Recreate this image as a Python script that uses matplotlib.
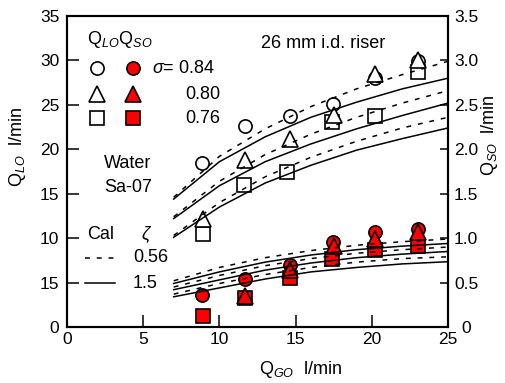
import numpy as np
import matplotlib
matplotlib.use("Agg")
import matplotlib.pyplot as plt

plt.rcParams['font.family'] = ['Liberation Sans', 'DejaVu Sans']
plt.rcParams['mathtext.fontset'] = 'custom'
plt.rcParams['mathtext.rm'] = 'Liberation Sans'
plt.rcParams['mathtext.it'] = 'Liberation Sans:italic'
plt.rcParams['font.size'] = 13

# measured data, Q_GO in l/min
x_lo_circ = [8.85, 11.7, 14.6, 17.45, 20.2, 23.0]
q_lo_circ = [18.5, 22.6, 23.7, 25.1, 28.0, 29.9]
x_lo_tri = [8.95, 11.7, 14.6, 17.5, 20.2, 23.0]
q_lo_tri = [12.2, 18.8, 21.2, 23.9, 28.5, 30.1]
x_lo_sq = [8.9, 11.6, 14.45, 17.4, 20.2, 23.0]
q_lo_sq = [10.5, 16.0, 17.5, 23.1, 23.75, 28.7]

x_so_circ = [8.85, 11.7, 14.6, 17.45, 20.2, 23.0]
q_so_circ = [0.36, 0.54, 0.70, 0.96, 1.07, 1.10]
x_so_tri = [11.7, 14.6, 17.5, 20.2, 23.0]
q_so_tri = [0.35, 0.64, 0.91, 0.99, 1.07]
x_so_sq = [8.9, 11.7, 14.6, 17.4, 20.2, 23.0]
q_so_sq = [0.12, 0.33, 0.55, 0.77, 0.87, 0.91]

# calculated curves (zeta = 0.56 dashed, 1.5 solid)
x_cal = [7, 10, 13, 16, 19, 22, 25]
lo_084_d = [14.6, 19.2, 22.3, 24.8, 26.8, 28.4, 29.9]
lo_084_s = [14.4, 18.6, 21.4, 23.6, 25.3, 26.8, 28.0]
lo_080_d = [12.4, 16.4, 19.4, 21.7, 23.6, 25.2, 26.6]
lo_080_s = [12.2, 15.9, 18.6, 20.6, 22.3, 23.8, 25.2]
lo_076_d = [10.3, 14.0, 16.9, 19.1, 20.9, 22.4, 23.6]
lo_076_s = [10.1, 13.5, 16.2, 18.2, 19.9, 21.2, 22.4]

so_084_d = [0.52, 0.67, 0.78, 0.86, 0.92, 0.96, 0.99]
so_084_s = [0.49, 0.62, 0.73, 0.81, 0.87, 0.91, 0.94]
so_080_d = [0.45, 0.58, 0.69, 0.77, 0.83, 0.87, 0.90]
so_080_s = [0.42, 0.53, 0.64, 0.72, 0.78, 0.82, 0.85]
so_076_d = [0.37, 0.49, 0.59, 0.67, 0.73, 0.77, 0.79]
so_076_s = [0.34, 0.44, 0.54, 0.62, 0.67, 0.71, 0.735]

left_ticks = [0, 5, 10, 15, 20, 25, 30, 35]
left_labels = ['0', '15', '10', '15', '20', '25', '30', '35']
right_ticks = [0, 0.5, 1.0, 1.5, 2.0, 2.5, 3.0, 3.5]
right_labels = ['0', '0.5', '1.0', '1.5', '2.0', '2.5', '3.0', '3.5']

fig = plt.figure(figsize=(5.06, 3.83), dpi=100)
ax = fig.add_axes([67/506, 1-327/383, 381/506, 311/383])
ax2 = ax.twinx()

mk = dict(markersize=9.5, markeredgewidth=1.2, markeredgecolor='black', linestyle='none')
tri = dict(mk, markersize=11)
lw = 1.1
dash = (3.2, 4.5)

ax.plot(x_lo_circ, q_lo_circ, marker='o', markerfacecolor='white', zorder=3, **mk)
ax.plot(x_lo_sq, q_lo_sq, marker='s', markerfacecolor='white', zorder=3, **mk)
ax.plot(x_lo_tri, q_lo_tri, marker='^', markerfacecolor='white', zorder=3, **tri)
for d, s in [(lo_084_d, lo_084_s), (lo_080_d, lo_080_s), (lo_076_d, lo_076_s)]:
    ax.plot(x_cal, d, color='black', lw=lw, dashes=dash, zorder=4)
    ax.plot(x_cal, s, color='black', lw=lw, zorder=4)

ax2.plot(x_so_circ, q_so_circ, marker='o', markerfacecolor='red', zorder=3, **mk)
ax2.plot(x_so_sq, q_so_sq, marker='s', markerfacecolor='red', zorder=3, **mk)
ax2.plot(x_so_tri, q_so_tri, marker='^', markerfacecolor='red', zorder=3, **tri)
for d, s in [(so_084_d, so_084_s), (so_080_d, so_080_s), (so_076_d, so_076_s)]:
    ax2.plot(x_cal, d, color='black', lw=lw, dashes=dash, zorder=4)
    ax2.plot(x_cal, s, color='black', lw=lw, zorder=4)

ax.set_xlim(0, 25)
ax.set_ylim(0, 35)
ax2.set_ylim(0, 3.5)
ax.set_xticks([0, 5, 10, 15, 20, 25])
ax.set_yticks(left_ticks)
ax.set_yticklabels(left_labels)
ax2.set_yticks(right_ticks)
ax2.set_yticklabels(right_labels)

ax.tick_params(axis='y', direction='in', length=8.5, width=1.1, pad=5.5, labelsize=12.5)
ax.tick_params(axis='x', direction='in', length=8.5, width=1.1, pad=3.5, labelsize=12.5)
ax2.tick_params(axis='y', direction='in', length=6, width=1.1, pad=13, labelsize=12.5)
for lab in ax2.get_yticklabels():
    lab.set_horizontalalignment('center')
for a in (ax, ax2):
    for sp in a.spines.values():
        sp.set_linewidth(1.5)

# in-plot legend
T = ax.transAxes
ax.text(0.052, 0.923, r'$\mathrm{Q}_{LO}\mathrm{Q}_{SO}$', transform=T, va='center', ha='left', fontsize=13)
rows = [('o', 0.832, r'$\sigma$= 0.84', 0.223, mk), ('^', 0.749, '0.80', 0.31, tri), ('s', 0.671, '0.76', 0.31, mk)]
for m, fy, lab, lx, st in rows:
    ax.plot([0.078], [fy], marker=m, markerfacecolor='white', transform=T, clip_on=False, **st)
    ax.plot([0.174], [fy], marker=m, markerfacecolor='red', transform=T, clip_on=False, **st)
    ax.text(lx, fy, lab, transform=T, va='center', ha='left', fontsize=13)

ax.text(0.672, 0.913, '26 mm i.d. riser', transform=T, va='center', ha='center', fontsize=13)
ax.text(0.16, 0.527, 'Water', transform=T, va='center', ha='center', fontsize=13)
ax.text(0.16, 0.447, 'Sa-07', transform=T, va='center', ha='center', fontsize=13)
ax.text(0.087, 0.296, 'Cal', transform=T, va='center', ha='center', fontsize=13)
ax.text(0.21, 0.296, r'$\zeta$', transform=T, va='center', ha='center', fontsize=13)
ax.plot([0.047, 0.126], [0.222, 0.222], color='black', lw=lw, dashes=dash, transform=T)
ax.plot([0.047, 0.126], [0.141, 0.141], color='black', lw=lw, transform=T)
ax.text(0.173, 0.222, '0.56', transform=T, va='center', ha='left', fontsize=13)
ax.text(0.173, 0.141, '1.5', transform=T, va='center', ha='left', fontsize=13)

fig.text(0.034, 0.616, r'$\mathrm{Q}_{LO}$  l/min', rotation=90, va='center', ha='center', fontsize=13)
fig.text(0.968, 0.648, r'$\mathrm{Q}_{SO}$  l/min', rotation=90, va='center', ha='center', fontsize=13)
fig.text(0.595, 0.034, r'$\mathrm{Q}_{GO}$  l/min', va='center', ha='center', fontsize=13)

fig.savefig('out.png', dpi=100)
